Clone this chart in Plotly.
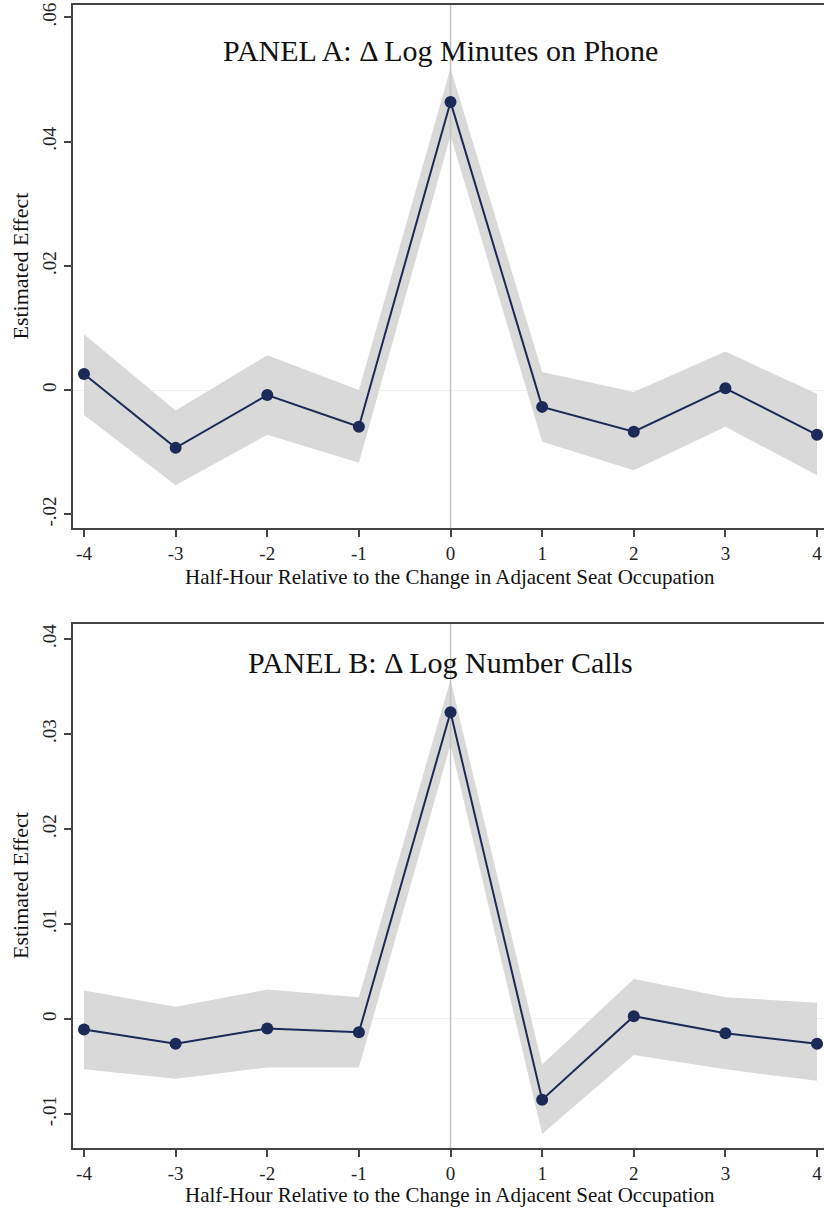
import plotly.graph_objects as go

# Event-time grid (half-hours relative to the change in adjacent seat occupation)
periods = [-4, -3, -2, -1, 0, 1, 2, 3, 4]

# Panel A: change in log minutes on phone
a_coef = [0.0026, -0.0093, -0.0008, -0.0059, 0.0464, -0.0027, -0.0067, 0.0003, -0.0072]
a_hi = [0.0090, -0.0033, 0.0056, 0.0000, 0.0518, 0.0029, -0.0003, 0.0062, -0.0006]
a_lo = [-0.0040, -0.0153, -0.0072, -0.0117, 0.0410, -0.0083, -0.0129, -0.0059, -0.0137]

# Panel B: change in log number of calls
b_coef = [-0.0011, -0.0026, -0.0010, -0.0014, 0.0323, -0.0085, 0.0003, -0.0015, -0.0026]
b_hi = [0.0030, 0.0013, 0.0031, 0.0023, 0.0357, -0.0048, 0.0042, 0.0023, 0.0017]
b_lo = [-0.0053, -0.0063, -0.0051, -0.0051, 0.0289, -0.0121, -0.0038, -0.0053, -0.0065]

a_ticks = [-0.02, 0, 0.02, 0.04, 0.06]
a_ticktext = ["-.02", "0", ".02", ".04", ".06"]
b_ticks = [-0.01, 0, 0.01, 0.02, 0.03, 0.04]
b_ticktext = ["-.01", "0", ".01", ".02", ".03", ".04"]

x_ticks = periods
x_ticktext = ["-4", "-3", "-2", "-1", "0", "1", "2", "3", "4"]

a_title = "PANEL A: \u0394 Log Minutes on Phone"
b_title = "PANEL B: \u0394 Log Number Calls"
x_title = "Half-Hour Relative to the Change in Adjacent Seat Occupation"
y_title = "Estimated Effect"

W, H = 824, 1212
FONT = "Liberation Serif"
NAVY = "#1b2a56"
BAND = "#d9d9d9"
AXIS = "#444444"

a_yrange = [-0.0222, 0.0620]
b_yrange = [-0.01358, 0.04158]
x_range = [-4.12, 4.076]

# Panel pixel boxes (top, bottom) converted to paper fractions
a_top, a_bot = 5, 528
b_top, b_bot = 624, 1148
x_left = 73


def pf(y):
    return 1 - y / H


fig = go.Figure()


def add_panel(coef, lo, hi, yrange, xa, ya):
    fig.add_trace(go.Scatter(
        x=periods + periods[::-1], y=hi + lo[::-1],
        fill="toself", fillcolor=BAND, line=dict(width=0),
        mode="lines", hoverinfo="skip", showlegend=False,
        xaxis=xa, yaxis=ya))
    # zero reference lines
    fig.add_trace(go.Scatter(
        x=[0, 0], y=yrange, mode="lines",
        line=dict(color="#c4c4c4", width=1.5),
        hoverinfo="skip", showlegend=False, xaxis=xa, yaxis=ya))
    fig.add_trace(go.Scatter(
        x=periods, y=coef, mode="lines+markers",
        line=dict(color=NAVY, width=2),
        marker=dict(color=NAVY, size=12),
        showlegend=False, xaxis=xa, yaxis=ya))


add_panel(a_coef, a_lo, a_hi, a_yrange, "x", "y")
add_panel(b_coef, b_lo, b_hi, b_yrange, "x2", "y2")

xcommon = dict(
    range=x_range, domain=[x_left / W, 1], tickmode="array",
    tickvals=x_ticks, ticktext=x_ticktext, ticks="outside", ticklen=7,
    tickwidth=1.5, tickcolor=AXIS, showline=True, linecolor=AXIS,
    linewidth=2, mirror=True, showgrid=False, zeroline=False,
    tickfont=dict(family=FONT, size=19, color="#222222"),
    automargin=False, fixedrange=True)
ycommon = dict(
    tickmode="array", ticks="outside", ticklen=7, tickwidth=1.5,
    tickcolor=AXIS, showline=True, linecolor=AXIS, linewidth=2,
    showgrid=False, zeroline=True, zerolinecolor="#f1f1f1",
    zerolinewidth=1, tickangle=-90,
    tickfont=dict(family=FONT, size=19, color="#222222"),
    automargin=False, fixedrange=True)

fig.update_layout(
    width=W, height=H, margin=dict(l=0, r=0, t=0, b=0),
    paper_bgcolor="white", plot_bgcolor="white",
    xaxis=dict(**xcommon, anchor="y"),
    xaxis2=dict(**xcommon, anchor="y2"),
    yaxis=dict(**ycommon, range=a_yrange, tickvals=a_ticks,
               ticktext=a_ticktext, domain=[pf(a_bot), pf(a_top)],
               anchor="x"),
    yaxis2=dict(**ycommon, range=b_yrange, tickvals=b_ticks,
                ticktext=b_ticktext, domain=[pf(b_bot), pf(b_top)],
                anchor="x2"),
)

ann_font = dict(family=FONT, color="#111111")
annotations = [
    dict(text=a_title, x=440 / W, y=pf(50), font=dict(**ann_font, size=30)),
    dict(text=b_title, x=440 / W, y=pf(662), font=dict(**ann_font, size=30)),
    dict(text=x_title, x=450 / W, y=pf(577), font=dict(**ann_font, size=21)),
    dict(text=x_title, x=450 / W, y=pf(1195), font=dict(**ann_font, size=21)),
    dict(text=y_title, x=20 / W, y=pf((a_top + a_bot) / 2), textangle=-90,
         font=dict(**ann_font, size=22)),
    dict(text=y_title, x=20 / W, y=pf((b_top + b_bot) / 2), textangle=-90,
         font=dict(**ann_font, size=22)),
]
for a in annotations:
    a.update(xref="paper", yref="paper", showarrow=False,
             xanchor="center", yanchor="middle")
fig.update_layout(annotations=annotations)

fig.write_html("out.html")
